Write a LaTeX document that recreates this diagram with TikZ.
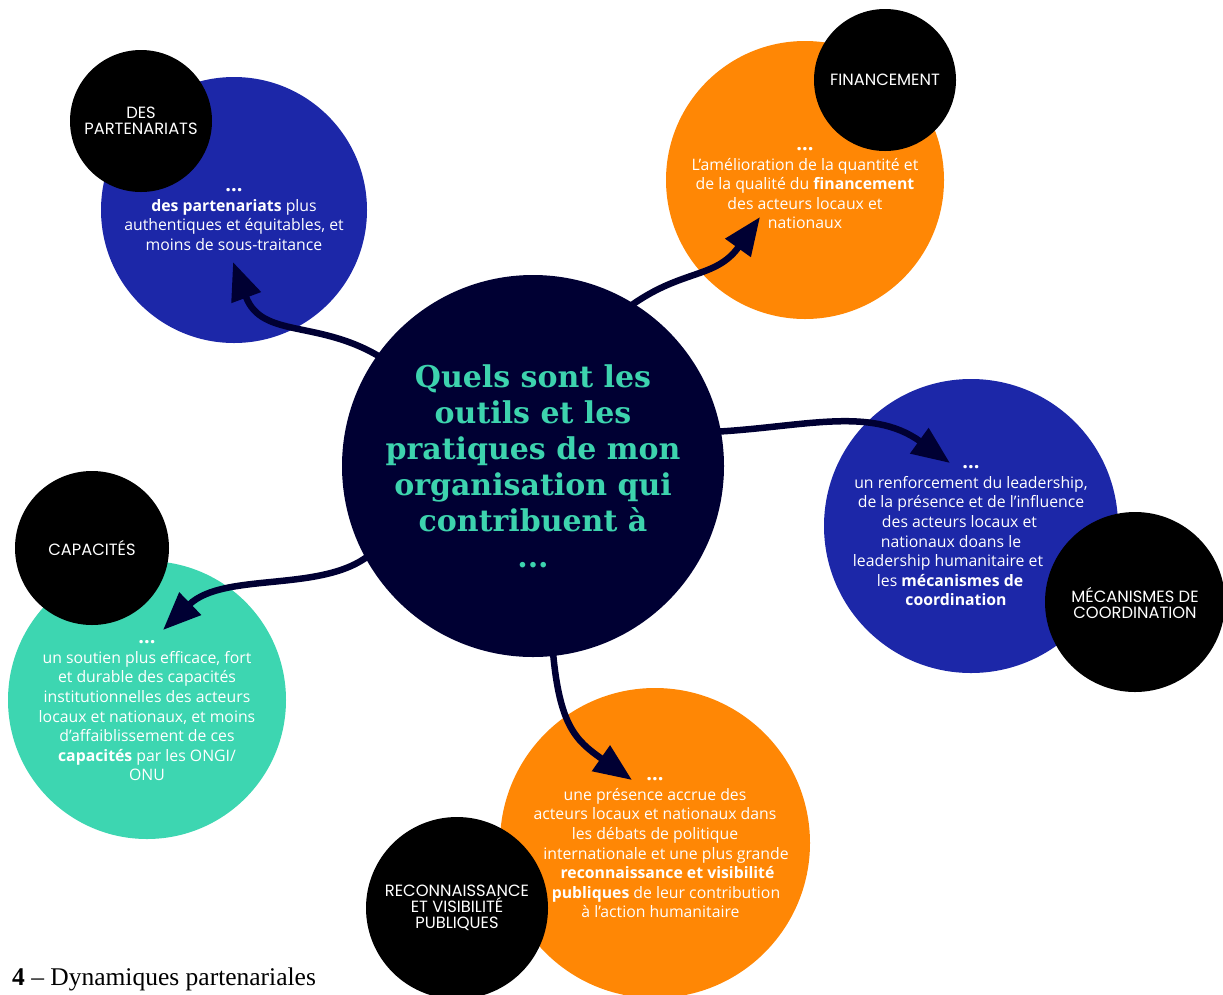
\documentclass[tikz,border=0pt]{standalone}
\usepackage{fontspec}
\setmainfont{Open Sans}
\newfontfamily\labf{Poppins}
\newfontfamily\titlef{DejaVu Serif}
\newfontfamily\capf{Liberation Serif}
\usetikzlibrary{arrows.meta}
\definecolor{navy}{HTML}{000033}
\definecolor{cblue}{HTML}{1C27A8}
\definecolor{corange}{HTML}{FF8705}
\definecolor{cteal}{HTML}{3DD6B1}
\definecolor{ttl}{HTML}{3DD3AE}
\newcommand{\dts}{{\fontsize{20}{19.5}\selectfont\bfseries ...}}
\tikzset{
  disc/.style={circle, inner sep=0pt, minimum size=#1},
  body/.style={text=white, align=center, font=\fontsize{15.8}{19.6}\selectfont},
  lab/.style={text=white, align=center, font=\labf\fontsize{16.3}{16}\selectfont},
  conn/.style={draw=navy, line width=6.5pt, -{Triangle[length=38pt,width=30pt]}},
}
\begin{document}
\begin{tikzpicture}[x=1pt,y=-1pt]
\useasboundingbox (0,0) rectangle (1223,994);
% colored circles
\node[disc=266pt, fill=cblue] (pc) at (234,210) {};
\node[disc=278pt, fill=corange] (fc) at (805,180) {};
\node[disc=294pt, fill=cblue] (mc) at (971,526) {};
\node[disc=278pt, fill=cteal] (cc) at (147,700) {};
\node[disc=310pt, fill=corange] (rc) at (655,843) {};
% black label circles
\node[disc=142pt, fill=black] (pl) at (141,121) {};
\node[disc=142pt, fill=black] (fl) at (885,80) {};
\node[disc=180pt, fill=black] (ml) at (1135,602) {};
\node[disc=154pt, fill=black] (cl) at (92,548) {};
\node[disc=182pt, fill=black] (rl) at (457,908) {};
\node[lab] at (pl) {DES\\PARTENARIATS};
\node[lab] at (fl) {FINANCEMENT};
\node[lab] at ([yshift=-1pt]ml) {MÉCANISMES DE\\COORDINATION};
\node[lab] at (cl) {CAPACITÉS};
\node[lab] at (rl) {RECONNAISSANCE\\ET VISIBILITÉ\\PUBLIQUES};
% body texts
\node[body, anchor=north] (pt) at (234,185) {\dts\\\textbf{des partenariats} plus\\authentiques et équitables, et\\moins de sous-traitance};
\node[body, anchor=north] (ft) at (805,144) {\dts\\L'amélioration de la quantité et\\de la qualité du \textbf{financement}\\des acteurs locaux et\\nationaux};
\node[body, anchor=north] (mt) at (971,462) {\dts\\un renforcement du leadership,\\de la présence et de l'influence\\des acteurs locaux et\kern23pt\\nationaux doans le\kern40pt\\leadership humanitaire et\kern46pt\\les \textbf{mécanismes de}\kern42pt\\\textbf{coordination}\kern30pt};
\node[body, anchor=north] (ct) at (147,637) {\dts\\un soutien plus efficace, fort\\et durable des capacités\\institutionnelles des acteurs\\locaux et nationaux, et moins\\d'affaiblissement de ces\\\textbf{capacités} par les ONGI/\\ONU};
\node[body, anchor=north] (rt) at (655,774) {\dts\\une présence accrue des\\acteurs locaux et nationaux dans\\les débats de politique\\\kern22pt internationale et une plus grande\\\kern25pt\textbf{reconnaissance et visibilité}\\\kern22pt\textbf{publiques} de leur contribution\\\kern11pt à l'action humanitaire};
% arrow targets
\coordinate (a1) at (233,262);
\coordinate (a2) at (760,217);
\coordinate (a3) at (950,463);
\coordinate (a4) at (163,630);
\coordinate (a5) at (632,780);
% central circle anchors
\coordinate (s1) at (385,360);
\coordinate (s2) at (625,310);
\coordinate (s3) at (710,432);
\coordinate (s4) at (375,550);
\coordinate (s5) at (552,640);
\draw[conn] (s1) .. controls (320,318) and (262,340) .. (a1);
\draw[conn] (s2) .. controls (680,268) and (715,280) .. (a2);
\draw[conn] (s3) .. controls (800,428) and (870,405) .. (a3);
\draw[conn] (s4) .. controls (330,595) and (225,570) .. (a4);
\draw[conn] (s5) .. controls (558,725) and (575,740) .. (a5);
% central
\node[disc=382pt, fill=navy] (q) at (533,466) {};
\node[text=ttl, align=center, font=\titlef\bfseries\fontsize{30}{36}\selectfont] (qt) at (533,466) {Quels sont les\\outils et les\\pratiques de mon\\organisation qui\\contribuent à\\...};
% caption
\node[anchor=base west, font=\capf\fontsize{25.5}{28}\selectfont, inner sep=0pt] (cap) at (12,985) {\textbf{4} – Dynamiques partenariales};
\end{tikzpicture}
\end{document}
